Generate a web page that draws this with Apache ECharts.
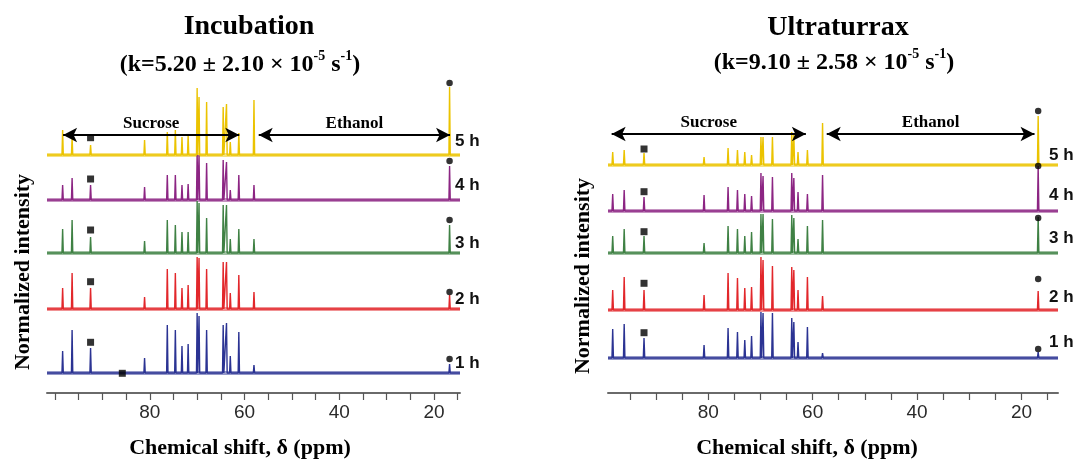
<!DOCTYPE html>
<html><head><meta charset="utf-8">
<script src="https://cdn.jsdelivr.net/npm/echarts@6/dist/echarts.min.js"></script>
<style>html,body{margin:0;padding:0;background:#fff}#c{width:1077px;height:461px}</style>
</head><body><div id="c"></div>
<script>
// ---------------- DATA ----------------
const timeLabels = ['1 h', '2 h', '3 h', '4 h', '5 h'];
const xTicks = [15, 20, 25, 30, 35, 40, 45, 50, 55, 60, 65, 70, 75, 80, 85, 90, 95, 100];
const xTickLabels = [20, 40, 60, 80];

// Incubation panel: peak positions (ppm) and heights per spectrum
const incPeaks = [98.4, 96.4, 92.5, 81.1, 76.3, 74.6, 73.2, 71.9, 70.0, 69.6, 68.0, 64.5, 63.8, 63.0, 61.2, 58.0, 16.7];
const inc1h = [22, 43, 25, 15, 48, 43, 27, 29, 60, 57, 43, 48, 50, 17, 41, 8, 9];
const inc2h = [21, 36, 21, 12, 40, 36, 21, 24, 52, 51, 40, 47, 47, 16, 34, 17, 14];
const inc3h = [24, 33, 16, 12, 33, 28, 21, 21, 52, 50, 35, 48, 48, 14, 24, 14, 28];
const inc4h = [15, 22, 15, 13, 25, 25, 15, 16, 48, 45, 37, 40, 38, 10, 25, 15, 34];
const inc5h = [25, 18, 10, 15, 23, 25, 18, 20, 67, 58, 53, 48, 51, 13, 22, 55, 68];
const incOffsets = [20, 84, 140, 193, 238];
const incSquares = [[92.5, 50.7], [85.8, 19.7], [92.5, 111.3], [92.5, 163], [92.5, 214], [92.5, 255.3]];
const incDots = [[16.7, 34], [16.7, 101], [16.7, 173], [16.7, 232], [16.7, 310]];

// Ultraturrax panel
const ultPeaks = [98.3, 96.1, 92.3, 80.8, 76.2, 74.4, 73.0, 71.7, 69.9, 69.5, 67.7, 64.0, 63.6, 62.8, 61.0, 58.1, 16.8];
const ult1h = [29, 34, 20, 13, 30, 26, 18, 22, 46, 45, 45, 40, 36, 16, 31, 5, 6];
const ult2h = [20, 33, 20, 15, 37, 32, 22, 23, 53, 50, 44, 43, 40, 20, 33, 14, 19];
const ult3h = [17, 24, 17, 10, 27, 24, 17, 21, 39, 39, 34, 38, 35, 14, 27, 33, 36];
const ult4h = [17, 21, 14, 16, 24, 21, 17, 15, 38, 35, 34, 38, 33, 19, 17, 36, 45];
const ult5h = [13, 15, 12, 8, 17, 15, 13, 10, 28, 28, 28, 33, 30, 13, 15, 42, 49];
const ultOffsets = [35, 83, 140, 182, 228];
const ultSquares = [[92.3, 60.3], [92.3, 109.7], [92.3, 161.3], [92.3, 201.3], [92.3, 244]];
const ultDots = [[16.8, 44], [16.8, 114], [16.8, 175], [16.8, 227], [16.8, 282]];

// Region arrows (ppm ranges)
const sucroseRangeInc = [98.3, 61.1];
const ethanolRangeInc = [57.0, 16.6];
const sucroseRangeUlt = [98.5, 61.3];
const ethanolRangeUlt = [57.3, 17.5];

// ---------------- STYLE / LAYOUT ----------------
const colors = ['#2b3393', '#e2272b', '#3f8144', '#8c2583', '#ebc300'];
const serif = '"Liberation Serif","Times New Roman",serif';
const sans = '"Liberation Sans",Arial,sans-serif';
const YMAX = 333;

function spectrum(peaks, heights, base, xmin, xmax) {
  const w = 0.14;
  const pts = [[xmax, base]];
  const idx = peaks.map((p, i) => i).sort((a, b) => peaks[b] - peaks[a]);
  idx.forEach(i => {
    pts.push([peaks[i] + w, base]);
    pts.push([peaks[i], base + heights[i]]);
    pts.push([peaks[i] - w, base]);
  });
  pts.push([xmin, base]);
  return pts;
}

const panels = [
  {peaks: incPeaks, sets: [inc1h, inc2h, inc3h, inc4h, inc5h], offs: incOffsets, sq: incSquares, dots: incDots,
   xmin: 14.5, xmax: 101.7, suc: sucroseRangeInc, eth: ethanolRangeInc, arrowY: 258},
  {peaks: ultPeaks, sets: [ult1h, ult2h, ult3h, ult4h, ult5h], offs: ultOffsets, sq: ultSquares, dots: ultDots,
   xmin: 13.0, xmax: 99.2, suc: sucroseRangeUlt, eth: ethanolRangeUlt, arrowY: 259}
];

const grids = [
  {left: 47, right: 1077 - 460, top: 60, bottom: 68},
  {left: 608, right: 1077 - 1058, top: 60, bottom: 68}
];

const xAxes = panels.map((p, i) => ({
  type: 'value', gridIndex: i, inverse: true, min: p.xmin, max: p.xmax,
  splitLine: {show: false},
  axisLine: {show: true, lineStyle: {color: '#6a6a6a', width: 2}},
  axisTick: {show: true, length: 7, lineStyle: {color: '#555', width: 1.2}, customValues: xTicks.filter(t => t <= p.xmax && t >= p.xmin)},
  axisLabel: {show: true, customValues: xTickLabels, fontFamily: sans, fontSize: 19, color: '#2a2a2a', margin: 10}
}));
const yAxes = panels.map((p, i) => ({
  type: 'value', gridIndex: i, min: 0, max: YMAX, show: false
}));

const series = [];
panels.forEach((p, gi) => {
  p.sets.forEach((h, k) => {
    series.push({
      type: 'line', xAxisIndex: gi, yAxisIndex: gi, silent: true, symbol: 'none',
      data: [[p.xmax, p.offs[k]], [p.xmin, p.offs[k]]],
      lineStyle: {color: colors[k], width: 4, opacity: 0.5}, z: 1
    });
    series.push({
      type: 'line', xAxisIndex: gi, yAxisIndex: gi, silent: true, symbol: 'none',
      data: spectrum(p.peaks, h, p.offs[k], p.xmin, p.xmax),
      lineStyle: {color: colors[k], width: 1.4}, z: 2
    });
  });
  series.push({
    type: 'scatter', xAxisIndex: gi, yAxisIndex: gi, symbol: 'rect', symbolSize: 7,
    itemStyle: {color: '#000'}, data: p.sq, z: 5
  });
  series.push({
    type: 'scatter', xAxisIndex: gi, yAxisIndex: gi, symbol: 'circle', symbolSize: 6.5,
    itemStyle: {color: '#000'}, data: p.dots, z: 5
  });
  series.push({
    type: 'line', xAxisIndex: gi, yAxisIndex: gi, data: [], silent: true,
    markLine: {
      silent: true, symbol: ['arrow', 'arrow'], symbolSize: [11, 14],
      lineStyle: {color: '#000', width: 2, type: 'solid'},
      data: [
        [{coord: [p.suc[0], p.arrowY], name: 'Sucrose'}, {coord: [p.suc[1], p.arrowY]}],
        [{coord: [p.eth[0], p.arrowY], name: 'Ethanol'}, {coord: [p.eth[1], p.arrowY]}]
      ],
      label: {show: true, position: 'middle', formatter: '{b}', fontFamily: serif, fontWeight: 'bold', fontSize: 17, color: '#000', distance: 3}
    }
  });
});

// ---------------- TEXT ----------------
const graphics = [];
function txt(text, x, y, font, extra) {
  graphics.push(Object.assign({type: 'text', x: x, y: y, style: {text: text, font: font, fill: '#000', textAlign: 'center', textVerticalAlign: 'middle'}}, extra || {}));
}
txt('Incubation', 249, 27, 'bold 28px ' + serif);
txt('Ultraturrax', 838, 28, 'bold 28px ' + serif);
function ktext(x, y, a, b) {
  graphics.push({type: 'text', x: x, y: y, style: {
    text: '{n|(k=' + a + ' ± ' + b + ' × 10}{s|-5}{n| s}{s|-1}{n|)}',
    textAlign: 'center', textVerticalAlign: 'middle', fill: '#000',
    rich: {
      n: {font: 'bold 24px ' + serif, fill: '#000', lineHeight: 28, verticalAlign: 'bottom'},
      s: {font: 'bold 14px ' + serif, fill: '#000', lineHeight: 28, verticalAlign: 'top'}
    }
  }});
}
ktext(240, 63, '5.20', '2.10');
ktext(834, 61, '9.10', '2.58');

txt('Normalized intensity', 23, 272, 'bold 22px ' + serif, {rotation: Math.PI / 2});
txt('Normalized intensity', 583, 276, 'bold 22px ' + serif, {rotation: Math.PI / 2});
txt('Chemical shift, δ (ppm)', 240, 448, 'bold 22px ' + serif);
txt('Chemical shift, δ (ppm)', 807, 448, 'bold 22px ' + serif);

const incLabelY = [363, 299, 243, 185, 141];
const ultLabelY = [342, 297, 238, 195, 155];
timeLabels.forEach((t, k) => {
  graphics.push({type: 'text', x: 455, y: incLabelY[k], style: {text: t, font: 'bold 17px ' + sans, fill: '#111', textAlign: 'left', textVerticalAlign: 'middle'}});
  graphics.push({type: 'text', x: 1049, y: ultLabelY[k], style: {text: t, font: 'bold 17px ' + sans, fill: '#111', textAlign: 'left', textVerticalAlign: 'middle'}});
});

const chart = echarts.init(document.getElementById('c'), null, {renderer: 'canvas'});
chart.setOption({
  animation: false,
  backgroundColor: '#fff',
  grid: grids,
  xAxis: xAxes,
  yAxis: yAxes,
  series: series,
  graphic: graphics
});
</script></body></html>
